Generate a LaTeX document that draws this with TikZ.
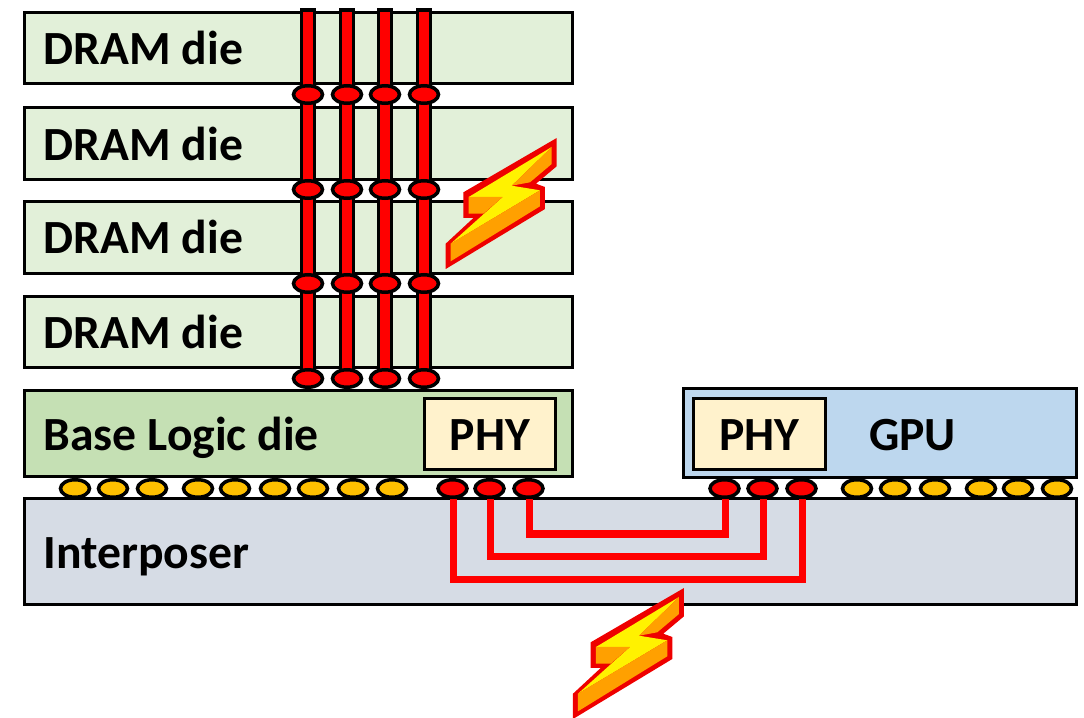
\documentclass[tikz,border=0pt]{standalone}
\usepackage{fontspec}
\setmainfont{Carlito}
\usetikzlibrary{shapes.geometric}
\definecolor{diegreen}{HTML}{E2F0D9}
\definecolor{basegreen}{HTML}{C5E0B4}
\definecolor{phycream}{HTML}{FFF2CC}
\definecolor{gpublue}{HTML}{BDD7EE}
\definecolor{intergray}{HTML}{D6DCE5}
\definecolor{bumpgold}{HTML}{FFC000}
\definecolor{boltred}{HTML}{EE0000}
\definecolor{boltorange}{HTML}{FFA000}
\tikzset{
  block/.style = {draw=black, line width=0.03cm, inner sep=0pt},
  lbl/.style = {anchor=base west, inner sep=0pt, font=\fontsize{13.55pt}{15pt}\selectfont\bfseries},
  tsv/.style = {draw=black, fill=red, line width=0.035cm},
  bump/.style = {ellipse, draw=black, line width=0.035cm, inner sep=0pt, minimum width=0.29cm, minimum height=0.175cm},
  wire/.style = {draw=red, line width=0.07cm},
  bolt/.pic = {
    \fill [boltred] (1.11,1.31) -- (1.11,1.027) -- (0.903,0.853) -- (0.993,0.82) -- (0.993,0.6) -- (0,0)
      -- (0,0.253) -- (0.277,0.51) -- (0.177,0.51) -- (0.177,0.767) -- cycle;
    \fill [yellow] (0.23,0.72) -- (1.06,1.22) -- (0.66,0.833) -- (0.943,0.787) -- (0.05,0.253) -- (0.57,0.72) -- cycle;
    \fill [boltorange] (1.06,1.22) -- (1.06,1.05) -- (0.843,0.867) -- (0.66,0.833) -- cycle;
    \fill [boltorange] (0.943,0.787) -- (0.943,0.627) -- (0.05,0.077) -- (0.05,0.253) -- cycle;
    \fill [boltorange] (0.23,0.72) -- (0.57,0.72) -- (0.377,0.553) -- (0.23,0.553) -- cycle;
  }
}

\begin{document}
\begin{tikzpicture}
  \useasboundingbox (0,0) rectangle (10.84,7.18);
  \foreach \i/\y in {1/6.695, 2/5.745, 3/4.805, 4/3.855} {
    \node [block, fill=diegreen, minimum width=5.48cm, minimum height=0.71cm] (die\i) at (2.985,\y) {};
  }
  \node [block, fill=basegreen, minimum width=5.48cm, minimum height=0.86cm] (base) at (2.985,2.84) {};
  \node [block, fill=phycream, minimum width=1.31cm, minimum height=0.71cm] (phyl) at (4.9,2.84) {};
  \node [block, fill=gpublue, minimum width=3.93cm, minimum height=0.89cm] (gpu) at (8.805,2.845) {};
  \node [block, fill=phycream, minimum width=1.32cm, minimum height=0.71cm] (phyr) at (7.595,2.84) {};
  \node [block, fill=intergray, minimum width=10.53cm, minimum height=1.06cm] (inter) at (5.505,1.66) {};

  \foreach \i/\y in {1/6.53, 2/5.58, 3/4.64, 4/3.69} {
    \node [lbl] (txt\i) at (0.43,\y) {DRAM die};
  }
  \node [lbl] (txtbase) at (0.43,2.67) {Base Logic die};
  \node [lbl] (txtinter) at (0.43,1.49) {Interposer};
  \node [lbl, anchor=base] (txtphyl) at (4.9,2.67) {PHY};
  \node [lbl, anchor=base] (txtphyr) at (7.595,2.67) {PHY};
  \node [lbl, anchor=base] (txtgpu) at (9.125,2.67) {GPU};

  \foreach \x in {3.08, 3.47, 3.85, 4.24} {
    \draw [tsv] (\x-0.065,7.08) rectangle (\x+0.065,3.39);
    \foreach \y in {6.235, 5.285, 4.345, 3.395} {
      \node [bump, fill=red] at (\x,\y) {};
    }
  }

  \foreach \x in {0.75, 1.13, 1.52, 1.98, 2.35, 2.75, 3.13, 3.53, 3.92, 8.57, 8.95, 9.35, 9.81, 10.18, 10.57} {
    \node [bump, fill=bumpgold] at (\x,2.295) {};
  }

  \node [bump, fill=red] (l1) at (4.525,2.295) {};
  \node [bump, fill=red] (l2) at (4.895,2.295) {};
  \node [bump, fill=red] (l3) at (5.285,2.295) {};
  \node [bump, fill=red] (r1) at (7.245,2.295) {};
  \node [bump, fill=red] (r2) at (7.625,2.295) {};
  \node [bump, fill=red] (r3) at (8.015,2.295) {};

  \draw [wire] ([xshift=0.01cm]l3.south) -- ++(0,-0.35) -| ([xshift=0.01cm]r1.south);
  \draw [wire] ([xshift=0.01cm]l2.south) -- ++(0,-0.58) -| ([xshift=0.01cm]r2.south);
  \draw [wire] ([xshift=0.01cm]l1.south) -- ++(0,-0.81) -| ([xshift=0.01cm]r3.south);

  \pic at (4.457,4.49) {bolt};
  \pic at (5.73,-0.01) {bolt};
\end{tikzpicture}
\end{document}
